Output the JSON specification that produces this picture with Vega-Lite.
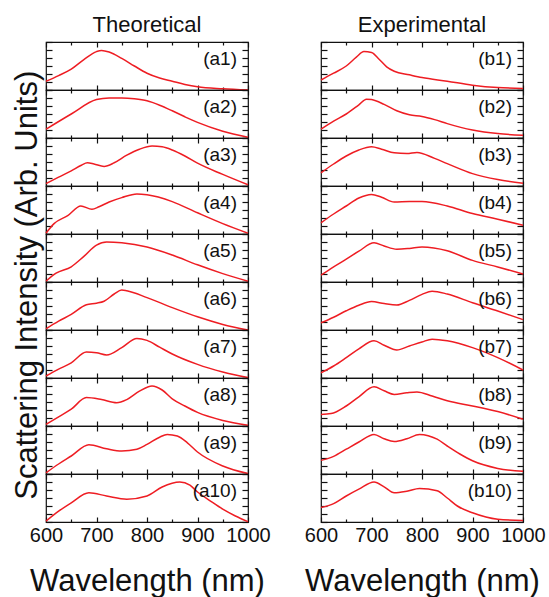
{
"$schema": "https://vega.github.io/schema/vega-lite/v6.json",
"padding": {"left": 11, "top": 13, "right": 0, "bottom": 0},
"data": {"values": [
{"p":"a1","w":600,"v":0.22},{"p":"a1","w":625,"v":0.36},{"p":"a1","w":650,"v":0.52},{"p":"a1","w":675,"v":0.76},{"p":"a1","w":700,"v":0.96},{"p":"a1","w":710,"v":0.99},{"p":"a1","w":725,"v":0.95},{"p":"a1","w":750,"v":0.79},{"p":"a1","w":775,"v":0.6},{"p":"a1","w":800,"v":0.42},{"p":"a1","w":825,"v":0.3},{"p":"a1","w":850,"v":0.22},{"p":"a1","w":875,"v":0.14},{"p":"a1","w":900,"v":0.08},{"p":"a1","w":950,"v":0.03},{"p":"a1","w":1000,"v":0.0},
{"p":"a2","w":600,"v":0.22},{"p":"a2","w":650,"v":0.6},{"p":"a2","w":700,"v":0.96},{"p":"a2","w":725,"v":1.0},{"p":"a2","w":750,"v":1.0},{"p":"a2","w":775,"v":0.98},{"p":"a2","w":800,"v":0.93},{"p":"a2","w":825,"v":0.82},{"p":"a2","w":850,"v":0.68},{"p":"a2","w":875,"v":0.53},{"p":"a2","w":900,"v":0.39},{"p":"a2","w":950,"v":0.17},{"p":"a2","w":1000,"v":0.02},
{"p":"a3","w":600,"v":0.06},{"p":"a3","w":625,"v":0.22},{"p":"a3","w":650,"v":0.38},{"p":"a3","w":670,"v":0.52},{"p":"a3","w":682,"v":0.58},{"p":"a3","w":695,"v":0.55},{"p":"a3","w":715,"v":0.49},{"p":"a3","w":735,"v":0.58},{"p":"a3","w":760,"v":0.77},{"p":"a3","w":785,"v":0.92},{"p":"a3","w":810,"v":1.0},{"p":"a3","w":830,"v":0.98},{"p":"a3","w":850,"v":0.9},{"p":"a3","w":875,"v":0.75},{"p":"a3","w":900,"v":0.57},{"p":"a3","w":950,"v":0.29},{"p":"a3","w":1000,"v":0.03},
{"p":"a4","w":600,"v":0.02},{"p":"a4","w":616,"v":0.26},{"p":"a4","w":643,"v":0.46},{"p":"a4","w":669,"v":0.7},{"p":"a4","w":691,"v":0.62},{"p":"a4","w":705,"v":0.68},{"p":"a4","w":725,"v":0.8},{"p":"a4","w":750,"v":0.91},{"p":"a4","w":780,"v":1.0},{"p":"a4","w":800,"v":0.98},{"p":"a4","w":850,"v":0.81},{"p":"a4","w":900,"v":0.53},{"p":"a4","w":950,"v":0.26},{"p":"a4","w":1000,"v":0.02},
{"p":"a5","w":600,"v":0.02},{"p":"a5","w":620,"v":0.22},{"p":"a5","w":650,"v":0.38},{"p":"a5","w":675,"v":0.64},{"p":"a5","w":700,"v":0.92},{"p":"a5","w":720,"v":1.0},{"p":"a5","w":750,"v":0.98},{"p":"a5","w":800,"v":0.875},{"p":"a5","w":850,"v":0.675},{"p":"a5","w":900,"v":0.43},{"p":"a5","w":950,"v":0.21},{"p":"a5","w":1000,"v":0.02},
{"p":"a6","w":600,"v":0.03},{"p":"a6","w":625,"v":0.22},{"p":"a6","w":650,"v":0.39},{"p":"a6","w":680,"v":0.63},{"p":"a6","w":700,"v":0.67},{"p":"a6","w":715,"v":0.72},{"p":"a6","w":735,"v":0.9},{"p":"a6","w":750,"v":1.0},{"p":"a6","w":760,"v":0.98},{"p":"a6","w":800,"v":0.81},{"p":"a6","w":850,"v":0.56},{"p":"a6","w":900,"v":0.33},{"p":"a6","w":950,"v":0.14},{"p":"a6","w":1000,"v":0.0},
{"p":"a7","w":600,"v":0.05},{"p":"a7","w":625,"v":0.22},{"p":"a7","w":650,"v":0.38},{"p":"a7","w":680,"v":0.65},{"p":"a7","w":700,"v":0.63},{"p":"a7","w":720,"v":0.575},{"p":"a7","w":750,"v":0.76},{"p":"a7","w":780,"v":0.99},{"p":"a7","w":800,"v":0.94},{"p":"a7","w":825,"v":0.77},{"p":"a7","w":850,"v":0.6},{"p":"a7","w":900,"v":0.34},{"p":"a7","w":950,"v":0.15},{"p":"a7","w":1000,"v":0.01},
{"p":"a8","w":600,"v":0.04},{"p":"a8","w":625,"v":0.23},{"p":"a8","w":650,"v":0.42},{"p":"a8","w":680,"v":0.71},{"p":"a8","w":710,"v":0.66},{"p":"a8","w":740,"v":0.58},{"p":"a8","w":760,"v":0.66},{"p":"a8","w":785,"v":0.87},{"p":"a8","w":810,"v":1.0},{"p":"a8","w":830,"v":0.9},{"p":"a8","w":850,"v":0.68},{"p":"a8","w":875,"v":0.5},{"p":"a8","w":900,"v":0.34},{"p":"a8","w":950,"v":0.14},{"p":"a8","w":1000,"v":0.02},
{"p":"a9","w":600,"v":0.03},{"p":"a9","w":625,"v":0.25},{"p":"a9","w":650,"v":0.45},{"p":"a9","w":685,"v":0.73},{"p":"a9","w":720,"v":0.63},{"p":"a9","w":750,"v":0.575},{"p":"a9","w":780,"v":0.62},{"p":"a9","w":800,"v":0.74},{"p":"a9","w":825,"v":0.92},{"p":"a9","w":840,"v":0.99},{"p":"a9","w":860,"v":0.95},{"p":"a9","w":880,"v":0.78},{"p":"a9","w":900,"v":0.55},{"p":"a9","w":950,"v":0.2},{"p":"a9","w":1000,"v":0.01},
{"p":"a10","w":600,"v":0.02},{"p":"a10","w":625,"v":0.27},{"p":"a10","w":650,"v":0.48},{"p":"a10","w":685,"v":0.73},{"p":"a10","w":720,"v":0.65},{"p":"a10","w":760,"v":0.57},{"p":"a10","w":800,"v":0.65},{"p":"a10","w":830,"v":0.875},{"p":"a10","w":865,"v":1.0},{"p":"a10","w":885,"v":0.92},{"p":"a10","w":900,"v":0.75},{"p":"a10","w":925,"v":0.53},{"p":"a10","w":950,"v":0.32},{"p":"a10","w":975,"v":0.15},{"p":"a10","w":1000,"v":0.01},
{"p":"b1","w":600,"v":0.25},{"p":"b1","w":625,"v":0.42},{"p":"b1","w":650,"v":0.6},{"p":"b1","w":670,"v":0.82},{"p":"b1","w":685,"v":0.96},{"p":"b1","w":700,"v":0.94},{"p":"b1","w":715,"v":0.77},{"p":"b1","w":730,"v":0.58},{"p":"b1","w":745,"v":0.47},{"p":"b1","w":775,"v":0.38},{"p":"b1","w":800,"v":0.31},{"p":"b1","w":850,"v":0.22},{"p":"b1","w":900,"v":0.12},{"p":"b1","w":950,"v":0.06},{"p":"b1","w":1000,"v":0.04},
{"p":"b2","w":600,"v":0.22},{"p":"b2","w":625,"v":0.42},{"p":"b2","w":650,"v":0.6},{"p":"b2","w":675,"v":0.83},{"p":"b2","w":690,"v":0.97},{"p":"b2","w":700,"v":0.96},{"p":"b2","w":725,"v":0.84},{"p":"b2","w":750,"v":0.68},{"p":"b2","w":775,"v":0.58},{"p":"b2","w":800,"v":0.54},{"p":"b2","w":825,"v":0.46},{"p":"b2","w":850,"v":0.36},{"p":"b2","w":900,"v":0.2},{"p":"b2","w":950,"v":0.11},{"p":"b2","w":1000,"v":0.07},
{"p":"b3","w":600,"v":0.33},{"p":"b3","w":625,"v":0.55},{"p":"b3","w":650,"v":0.75},{"p":"b3","w":675,"v":0.9},{"p":"b3","w":700,"v":0.98},{"p":"b3","w":720,"v":0.92},{"p":"b3","w":745,"v":0.83},{"p":"b3","w":770,"v":0.81},{"p":"b3","w":790,"v":0.84},{"p":"b3","w":825,"v":0.69},{"p":"b3","w":850,"v":0.56},{"p":"b3","w":900,"v":0.31},{"p":"b3","w":950,"v":0.16},{"p":"b3","w":1000,"v":0.07},
{"p":"b4","w":600,"v":0.28},{"p":"b4","w":625,"v":0.5},{"p":"b4","w":650,"v":0.7},{"p":"b4","w":675,"v":0.9},{"p":"b4","w":700,"v":0.99},{"p":"b4","w":720,"v":0.92},{"p":"b4","w":745,"v":0.8},{"p":"b4","w":775,"v":0.81},{"p":"b4","w":800,"v":0.81},{"p":"b4","w":850,"v":0.7},{"p":"b4","w":900,"v":0.51},{"p":"b4","w":950,"v":0.37},{"p":"b4","w":1000,"v":0.22},
{"p":"b5","w":600,"v":0.17},{"p":"b5","w":625,"v":0.38},{"p":"b5","w":650,"v":0.57},{"p":"b5","w":675,"v":0.77},{"p":"b5","w":705,"v":0.98},{"p":"b5","w":725,"v":0.9},{"p":"b5","w":750,"v":0.82},{"p":"b5","w":775,"v":0.84},{"p":"b5","w":800,"v":0.875},{"p":"b5","w":850,"v":0.78},{"p":"b5","w":900,"v":0.54},{"p":"b5","w":950,"v":0.375},{"p":"b5","w":1000,"v":0.2},
{"p":"b6","w":600,"v":0.18},{"p":"b6","w":625,"v":0.32},{"p":"b6","w":650,"v":0.48},{"p":"b6","w":675,"v":0.62},{"p":"b6","w":700,"v":0.71},{"p":"b6","w":725,"v":0.66},{"p":"b6","w":750,"v":0.625},{"p":"b6","w":775,"v":0.74},{"p":"b6","w":800,"v":0.89},{"p":"b6","w":820,"v":0.97},{"p":"b6","w":850,"v":0.9},{"p":"b6","w":900,"v":0.68},{"p":"b6","w":950,"v":0.475},{"p":"b6","w":1000,"v":0.26},
{"p":"b7","w":600,"v":0.13},{"p":"b7","w":625,"v":0.3},{"p":"b7","w":650,"v":0.51},{"p":"b7","w":675,"v":0.73},{"p":"b7","w":705,"v":0.93},{"p":"b7","w":725,"v":0.82},{"p":"b7","w":750,"v":0.7},{"p":"b7","w":775,"v":0.8},{"p":"b7","w":800,"v":0.9},{"p":"b7","w":820,"v":0.97},{"p":"b7","w":850,"v":0.93},{"p":"b7","w":900,"v":0.76},{"p":"b7","w":950,"v":0.51},{"p":"b7","w":1000,"v":0.2},
{"p":"b8","w":600,"v":0.29},{"p":"b8","w":620,"v":0.31},{"p":"b8","w":650,"v":0.5},{"p":"b8","w":675,"v":0.73},{"p":"b8","w":705,"v":0.98},{"p":"b8","w":725,"v":0.88},{"p":"b8","w":745,"v":0.79},{"p":"b8","w":770,"v":0.83},{"p":"b8","w":790,"v":0.85},{"p":"b8","w":820,"v":0.75},{"p":"b8","w":850,"v":0.63},{"p":"b8","w":900,"v":0.5},{"p":"b8","w":950,"v":0.36},{"p":"b8","w":1000,"v":0.17},
{"p":"b9","w":600,"v":0.34},{"p":"b9","w":625,"v":0.44},{"p":"b9","w":650,"v":0.62},{"p":"b9","w":675,"v":0.8},{"p":"b9","w":705,"v":0.99},{"p":"b9","w":725,"v":0.88},{"p":"b9","w":745,"v":0.81},{"p":"b9","w":770,"v":0.88},{"p":"b9","w":795,"v":0.99},{"p":"b9","w":830,"v":0.87},{"p":"b9","w":850,"v":0.7},{"p":"b9","w":875,"v":0.5},{"p":"b9","w":900,"v":0.33},{"p":"b9","w":950,"v":0.14},{"p":"b9","w":1000,"v":0.07},
{"p":"b10","w":600,"v":0.36},{"p":"b10","w":625,"v":0.46},{"p":"b10","w":650,"v":0.65},{"p":"b10","w":675,"v":0.82},{"p":"b10","w":705,"v":1.0},{"p":"b10","w":725,"v":0.88},{"p":"b10","w":745,"v":0.73},{"p":"b10","w":770,"v":0.77},{"p":"b10","w":795,"v":0.84},{"p":"b10","w":830,"v":0.78},{"p":"b10","w":850,"v":0.6},{"p":"b10","w":870,"v":0.4},{"p":"b10","w":900,"v":0.23},{"p":"b10","w":950,"v":0.07},{"p":"b10","w":1000,"v":0.04}
]},
"hconcat": [
{"vconcat": [
{"title": {"text": "Theoretical", "fontSize": 22, "fontWeight": "normal", "offset": 4}, "width": 202, "height": 48, "transform": [{"filter": "datum.p === 'a1'"}], "layer": [{"mark": {"type": "line", "color": "#ee1d23", "strokeWidth": 1.5, "interpolate": "monotone"}, "encoding": {"x": {"field": "w", "type": "quantitative", "scale": {"domain": [600, 1000], "nice": false}, "axis": {"title": null}}, "y": {"field": "v", "type": "quantitative", "scale": {"domain": [0, 1.2], "nice": false}, "axis": {"title": null}}}}, {"transform": [{"filter": "datum.w === 1000"}], "mark": {"type": "text", "align": "right", "baseline": "middle", "dx": -11, "dy": 17, "fontSize": 19}, "encoding": {"x": {"datum": 1000, "type": "quantitative", "axis": {"orient": "top", "title": null}}, "y": {"datum": 1.2, "type": "quantitative", "axis": {"orient": "right", "title": null}}, "text": {"value": "(a1)"}}}], "resolve": {"axis": {"x": "independent", "y": "independent"}}},
{"width": 202, "height": 48, "transform": [{"filter": "datum.p === 'a2'"}], "layer": [{"mark": {"type": "line", "color": "#ee1d23", "strokeWidth": 1.5, "interpolate": "monotone"}, "encoding": {"x": {"field": "w", "type": "quantitative", "scale": {"domain": [600, 1000], "nice": false}, "axis": {"title": null}}, "y": {"field": "v", "type": "quantitative", "scale": {"domain": [0, 1.2], "nice": false}, "axis": {"title": null}}}}, {"transform": [{"filter": "datum.w === 1000"}], "mark": {"type": "text", "align": "right", "baseline": "middle", "dx": -11, "dy": 17, "fontSize": 19}, "encoding": {"x": {"datum": 1000, "type": "quantitative", "axis": {"orient": "top", "title": null}}, "y": {"datum": 1.2, "type": "quantitative", "axis": {"orient": "right", "title": null}}, "text": {"value": "(a2)"}}}], "resolve": {"axis": {"x": "independent", "y": "independent"}}},
{"width": 202, "height": 48, "transform": [{"filter": "datum.p === 'a3'"}], "layer": [{"mark": {"type": "line", "color": "#ee1d23", "strokeWidth": 1.5, "interpolate": "monotone"}, "encoding": {"x": {"field": "w", "type": "quantitative", "scale": {"domain": [600, 1000], "nice": false}, "axis": {"title": null}}, "y": {"field": "v", "type": "quantitative", "scale": {"domain": [0, 1.2], "nice": false}, "axis": {"title": null}}}}, {"transform": [{"filter": "datum.w === 1000"}], "mark": {"type": "text", "align": "right", "baseline": "middle", "dx": -11, "dy": 17, "fontSize": 19}, "encoding": {"x": {"datum": 1000, "type": "quantitative", "axis": {"orient": "top", "title": null}}, "y": {"datum": 1.2, "type": "quantitative", "axis": {"orient": "right", "title": null}}, "text": {"value": "(a3)"}}}], "resolve": {"axis": {"x": "independent", "y": "independent"}}},
{"width": 202, "height": 48, "transform": [{"filter": "datum.p === 'a4'"}], "layer": [{"mark": {"type": "line", "color": "#ee1d23", "strokeWidth": 1.5, "interpolate": "monotone"}, "encoding": {"x": {"field": "w", "type": "quantitative", "scale": {"domain": [600, 1000], "nice": false}, "axis": {"title": null}}, "y": {"field": "v", "type": "quantitative", "scale": {"domain": [0, 1.2], "nice": false}, "axis": {"title": null}}}}, {"transform": [{"filter": "datum.w === 1000"}], "mark": {"type": "text", "align": "right", "baseline": "middle", "dx": -11, "dy": 17, "fontSize": 19}, "encoding": {"x": {"datum": 1000, "type": "quantitative", "axis": {"orient": "top", "title": null}}, "y": {"datum": 1.2, "type": "quantitative", "axis": {"orient": "right", "title": null}}, "text": {"value": "(a4)"}}}], "resolve": {"axis": {"x": "independent", "y": "independent"}}},
{"width": 202, "height": 48, "transform": [{"filter": "datum.p === 'a5'"}], "layer": [{"mark": {"type": "line", "color": "#ee1d23", "strokeWidth": 1.5, "interpolate": "monotone"}, "encoding": {"x": {"field": "w", "type": "quantitative", "scale": {"domain": [600, 1000], "nice": false}, "axis": {"title": null}}, "y": {"field": "v", "type": "quantitative", "scale": {"domain": [0, 1.2], "nice": false}, "axis": {"title": null}}}}, {"transform": [{"filter": "datum.w === 1000"}], "mark": {"type": "text", "align": "right", "baseline": "middle", "dx": -11, "dy": 17, "fontSize": 19}, "encoding": {"x": {"datum": 1000, "type": "quantitative", "axis": {"orient": "top", "title": null}}, "y": {"datum": 1.2, "type": "quantitative", "axis": {"orient": "right", "title": null}}, "text": {"value": "(a5)"}}}], "resolve": {"axis": {"x": "independent", "y": "independent"}}},
{"width": 202, "height": 48, "transform": [{"filter": "datum.p === 'a6'"}], "layer": [{"mark": {"type": "line", "color": "#ee1d23", "strokeWidth": 1.5, "interpolate": "monotone"}, "encoding": {"x": {"field": "w", "type": "quantitative", "scale": {"domain": [600, 1000], "nice": false}, "axis": {"title": null}}, "y": {"field": "v", "type": "quantitative", "scale": {"domain": [0, 1.2], "nice": false}, "axis": {"title": null}}}}, {"transform": [{"filter": "datum.w === 1000"}], "mark": {"type": "text", "align": "right", "baseline": "middle", "dx": -11, "dy": 17, "fontSize": 19}, "encoding": {"x": {"datum": 1000, "type": "quantitative", "axis": {"orient": "top", "title": null}}, "y": {"datum": 1.2, "type": "quantitative", "axis": {"orient": "right", "title": null}}, "text": {"value": "(a6)"}}}], "resolve": {"axis": {"x": "independent", "y": "independent"}}},
{"width": 202, "height": 48, "transform": [{"filter": "datum.p === 'a7'"}], "layer": [{"mark": {"type": "line", "color": "#ee1d23", "strokeWidth": 1.5, "interpolate": "monotone"}, "encoding": {"x": {"field": "w", "type": "quantitative", "scale": {"domain": [600, 1000], "nice": false}, "axis": {"title": null}}, "y": {"field": "v", "type": "quantitative", "scale": {"domain": [0, 1.2], "nice": false}, "axis": {"title": null}}}}, {"transform": [{"filter": "datum.w === 1000"}], "mark": {"type": "text", "align": "right", "baseline": "middle", "dx": -11, "dy": 17, "fontSize": 19}, "encoding": {"x": {"datum": 1000, "type": "quantitative", "axis": {"orient": "top", "title": null}}, "y": {"datum": 1.2, "type": "quantitative", "axis": {"orient": "right", "title": null}}, "text": {"value": "(a7)"}}}], "resolve": {"axis": {"x": "independent", "y": "independent"}}},
{"width": 202, "height": 48, "transform": [{"filter": "datum.p === 'a8'"}], "layer": [{"mark": {"type": "line", "color": "#ee1d23", "strokeWidth": 1.5, "interpolate": "monotone"}, "encoding": {"x": {"field": "w", "type": "quantitative", "scale": {"domain": [600, 1000], "nice": false}, "axis": {"title": null}}, "y": {"field": "v", "type": "quantitative", "scale": {"domain": [0, 1.2], "nice": false}, "axis": {"title": null}}}}, {"transform": [{"filter": "datum.w === 1000"}], "mark": {"type": "text", "align": "right", "baseline": "middle", "dx": -11, "dy": 17, "fontSize": 19}, "encoding": {"x": {"datum": 1000, "type": "quantitative", "axis": {"orient": "top", "title": null}}, "y": {"datum": 1.2, "type": "quantitative", "axis": {"orient": "right", "title": null}}, "text": {"value": "(a8)"}}}], "resolve": {"axis": {"x": "independent", "y": "independent"}}},
{"width": 202, "height": 48, "transform": [{"filter": "datum.p === 'a9'"}], "layer": [{"mark": {"type": "line", "color": "#ee1d23", "strokeWidth": 1.5, "interpolate": "monotone"}, "encoding": {"x": {"field": "w", "type": "quantitative", "scale": {"domain": [600, 1000], "nice": false}, "axis": {"title": null}}, "y": {"field": "v", "type": "quantitative", "scale": {"domain": [0, 1.2], "nice": false}, "axis": {"title": null}}}}, {"transform": [{"filter": "datum.w === 1000"}], "mark": {"type": "text", "align": "right", "baseline": "middle", "dx": -11, "dy": 17, "fontSize": 19}, "encoding": {"x": {"datum": 1000, "type": "quantitative", "axis": {"orient": "top", "title": null}}, "y": {"datum": 1.2, "type": "quantitative", "axis": {"orient": "right", "title": null}}, "text": {"value": "(a9)"}}}], "resolve": {"axis": {"x": "independent", "y": "independent"}}},
{"width": 202, "height": 48, "transform": [{"filter": "datum.p === 'a10'"}], "layer": [{"mark": {"type": "line", "color": "#ee1d23", "strokeWidth": 1.5, "interpolate": "monotone"}, "encoding": {"x": {"field": "w", "type": "quantitative", "scale": {"domain": [600, 1000], "nice": false}, "axis": {"title": "Wavelength (nm)", "labels": true, "format": "d", "labelOverlap": false, "labelFlush": false, "labelExpr": "datum.value % 100 === 0 ? datum.label : ''", "labelFontSize": 20, "labelPadding": 8, "titleFontSize": 31, "titlePadding": 19}}, "y": {"field": "v", "type": "quantitative", "scale": {"domain": [0, 1.2], "nice": false}, "axis": {"title": null}}}}, {"transform": [{"filter": "datum.w === 1000"}], "mark": {"type": "text", "align": "right", "baseline": "middle", "dx": -11, "dy": 17, "fontSize": 19}, "encoding": {"x": {"datum": 1000, "type": "quantitative", "axis": {"orient": "top", "title": null}}, "y": {"datum": 1.2, "type": "quantitative", "axis": {"orient": "right", "title": null}}, "text": {"value": "(a10)"}}}], "resolve": {"axis": {"x": "independent", "y": "independent"}}}
], "spacing": 0, "bounds": "flush", "title": {"text": "Scattering Intensity (Arb. Units)", "orient": "left", "anchor": "middle", "frame": "bounds", "fontSize": 31, "fontWeight": "normal", "offset": -15, "dx": 20}},
{"vconcat": [
{"title": {"text": "Experimental", "fontSize": 22, "fontWeight": "normal", "offset": 4}, "width": 202, "height": 48, "transform": [{"filter": "datum.p === 'b1'"}], "layer": [{"mark": {"type": "line", "color": "#ee1d23", "strokeWidth": 1.5, "interpolate": "monotone"}, "encoding": {"x": {"field": "w", "type": "quantitative", "scale": {"domain": [600, 1000], "nice": false}, "axis": {"title": null}}, "y": {"field": "v", "type": "quantitative", "scale": {"domain": [0, 1.2], "nice": false}, "axis": {"title": null}}}}, {"transform": [{"filter": "datum.w === 1000"}], "mark": {"type": "text", "align": "right", "baseline": "middle", "dx": -11, "dy": 17, "fontSize": 19}, "encoding": {"x": {"datum": 1000, "type": "quantitative", "axis": {"orient": "top", "title": null}}, "y": {"datum": 1.2, "type": "quantitative", "axis": {"orient": "right", "title": null}}, "text": {"value": "(b1)"}}}], "resolve": {"axis": {"x": "independent", "y": "independent"}}},
{"width": 202, "height": 48, "transform": [{"filter": "datum.p === 'b2'"}], "layer": [{"mark": {"type": "line", "color": "#ee1d23", "strokeWidth": 1.5, "interpolate": "monotone"}, "encoding": {"x": {"field": "w", "type": "quantitative", "scale": {"domain": [600, 1000], "nice": false}, "axis": {"title": null}}, "y": {"field": "v", "type": "quantitative", "scale": {"domain": [0, 1.2], "nice": false}, "axis": {"title": null}}}}, {"transform": [{"filter": "datum.w === 1000"}], "mark": {"type": "text", "align": "right", "baseline": "middle", "dx": -11, "dy": 17, "fontSize": 19}, "encoding": {"x": {"datum": 1000, "type": "quantitative", "axis": {"orient": "top", "title": null}}, "y": {"datum": 1.2, "type": "quantitative", "axis": {"orient": "right", "title": null}}, "text": {"value": "(b2)"}}}], "resolve": {"axis": {"x": "independent", "y": "independent"}}},
{"width": 202, "height": 48, "transform": [{"filter": "datum.p === 'b3'"}], "layer": [{"mark": {"type": "line", "color": "#ee1d23", "strokeWidth": 1.5, "interpolate": "monotone"}, "encoding": {"x": {"field": "w", "type": "quantitative", "scale": {"domain": [600, 1000], "nice": false}, "axis": {"title": null}}, "y": {"field": "v", "type": "quantitative", "scale": {"domain": [0, 1.2], "nice": false}, "axis": {"title": null}}}}, {"transform": [{"filter": "datum.w === 1000"}], "mark": {"type": "text", "align": "right", "baseline": "middle", "dx": -11, "dy": 17, "fontSize": 19}, "encoding": {"x": {"datum": 1000, "type": "quantitative", "axis": {"orient": "top", "title": null}}, "y": {"datum": 1.2, "type": "quantitative", "axis": {"orient": "right", "title": null}}, "text": {"value": "(b3)"}}}], "resolve": {"axis": {"x": "independent", "y": "independent"}}},
{"width": 202, "height": 48, "transform": [{"filter": "datum.p === 'b4'"}], "layer": [{"mark": {"type": "line", "color": "#ee1d23", "strokeWidth": 1.5, "interpolate": "monotone"}, "encoding": {"x": {"field": "w", "type": "quantitative", "scale": {"domain": [600, 1000], "nice": false}, "axis": {"title": null}}, "y": {"field": "v", "type": "quantitative", "scale": {"domain": [0, 1.2], "nice": false}, "axis": {"title": null}}}}, {"transform": [{"filter": "datum.w === 1000"}], "mark": {"type": "text", "align": "right", "baseline": "middle", "dx": -11, "dy": 17, "fontSize": 19}, "encoding": {"x": {"datum": 1000, "type": "quantitative", "axis": {"orient": "top", "title": null}}, "y": {"datum": 1.2, "type": "quantitative", "axis": {"orient": "right", "title": null}}, "text": {"value": "(b4)"}}}], "resolve": {"axis": {"x": "independent", "y": "independent"}}},
{"width": 202, "height": 48, "transform": [{"filter": "datum.p === 'b5'"}], "layer": [{"mark": {"type": "line", "color": "#ee1d23", "strokeWidth": 1.5, "interpolate": "monotone"}, "encoding": {"x": {"field": "w", "type": "quantitative", "scale": {"domain": [600, 1000], "nice": false}, "axis": {"title": null}}, "y": {"field": "v", "type": "quantitative", "scale": {"domain": [0, 1.2], "nice": false}, "axis": {"title": null}}}}, {"transform": [{"filter": "datum.w === 1000"}], "mark": {"type": "text", "align": "right", "baseline": "middle", "dx": -11, "dy": 17, "fontSize": 19}, "encoding": {"x": {"datum": 1000, "type": "quantitative", "axis": {"orient": "top", "title": null}}, "y": {"datum": 1.2, "type": "quantitative", "axis": {"orient": "right", "title": null}}, "text": {"value": "(b5)"}}}], "resolve": {"axis": {"x": "independent", "y": "independent"}}},
{"width": 202, "height": 48, "transform": [{"filter": "datum.p === 'b6'"}], "layer": [{"mark": {"type": "line", "color": "#ee1d23", "strokeWidth": 1.5, "interpolate": "monotone"}, "encoding": {"x": {"field": "w", "type": "quantitative", "scale": {"domain": [600, 1000], "nice": false}, "axis": {"title": null}}, "y": {"field": "v", "type": "quantitative", "scale": {"domain": [0, 1.2], "nice": false}, "axis": {"title": null}}}}, {"transform": [{"filter": "datum.w === 1000"}], "mark": {"type": "text", "align": "right", "baseline": "middle", "dx": -11, "dy": 17, "fontSize": 19}, "encoding": {"x": {"datum": 1000, "type": "quantitative", "axis": {"orient": "top", "title": null}}, "y": {"datum": 1.2, "type": "quantitative", "axis": {"orient": "right", "title": null}}, "text": {"value": "(b6)"}}}], "resolve": {"axis": {"x": "independent", "y": "independent"}}},
{"width": 202, "height": 48, "transform": [{"filter": "datum.p === 'b7'"}], "layer": [{"mark": {"type": "line", "color": "#ee1d23", "strokeWidth": 1.5, "interpolate": "monotone"}, "encoding": {"x": {"field": "w", "type": "quantitative", "scale": {"domain": [600, 1000], "nice": false}, "axis": {"title": null}}, "y": {"field": "v", "type": "quantitative", "scale": {"domain": [0, 1.2], "nice": false}, "axis": {"title": null}}}}, {"transform": [{"filter": "datum.w === 1000"}], "mark": {"type": "text", "align": "right", "baseline": "middle", "dx": -11, "dy": 17, "fontSize": 19}, "encoding": {"x": {"datum": 1000, "type": "quantitative", "axis": {"orient": "top", "title": null}}, "y": {"datum": 1.2, "type": "quantitative", "axis": {"orient": "right", "title": null}}, "text": {"value": "(b7)"}}}], "resolve": {"axis": {"x": "independent", "y": "independent"}}},
{"width": 202, "height": 48, "transform": [{"filter": "datum.p === 'b8'"}], "layer": [{"mark": {"type": "line", "color": "#ee1d23", "strokeWidth": 1.5, "interpolate": "monotone"}, "encoding": {"x": {"field": "w", "type": "quantitative", "scale": {"domain": [600, 1000], "nice": false}, "axis": {"title": null}}, "y": {"field": "v", "type": "quantitative", "scale": {"domain": [0, 1.2], "nice": false}, "axis": {"title": null}}}}, {"transform": [{"filter": "datum.w === 1000"}], "mark": {"type": "text", "align": "right", "baseline": "middle", "dx": -11, "dy": 17, "fontSize": 19}, "encoding": {"x": {"datum": 1000, "type": "quantitative", "axis": {"orient": "top", "title": null}}, "y": {"datum": 1.2, "type": "quantitative", "axis": {"orient": "right", "title": null}}, "text": {"value": "(b8)"}}}], "resolve": {"axis": {"x": "independent", "y": "independent"}}},
{"width": 202, "height": 48, "transform": [{"filter": "datum.p === 'b9'"}], "layer": [{"mark": {"type": "line", "color": "#ee1d23", "strokeWidth": 1.5, "interpolate": "monotone"}, "encoding": {"x": {"field": "w", "type": "quantitative", "scale": {"domain": [600, 1000], "nice": false}, "axis": {"title": null}}, "y": {"field": "v", "type": "quantitative", "scale": {"domain": [0, 1.2], "nice": false}, "axis": {"title": null}}}}, {"transform": [{"filter": "datum.w === 1000"}], "mark": {"type": "text", "align": "right", "baseline": "middle", "dx": -11, "dy": 17, "fontSize": 19}, "encoding": {"x": {"datum": 1000, "type": "quantitative", "axis": {"orient": "top", "title": null}}, "y": {"datum": 1.2, "type": "quantitative", "axis": {"orient": "right", "title": null}}, "text": {"value": "(b9)"}}}], "resolve": {"axis": {"x": "independent", "y": "independent"}}},
{"width": 202, "height": 48, "transform": [{"filter": "datum.p === 'b10'"}], "layer": [{"mark": {"type": "line", "color": "#ee1d23", "strokeWidth": 1.5, "interpolate": "monotone"}, "encoding": {"x": {"field": "w", "type": "quantitative", "scale": {"domain": [600, 1000], "nice": false}, "axis": {"title": "Wavelength (nm)", "labels": true, "format": "d", "labelOverlap": false, "labelFlush": false, "labelExpr": "datum.value % 100 === 0 ? datum.label : ''", "labelFontSize": 20, "labelPadding": 8, "titleFontSize": 31, "titlePadding": 19}}, "y": {"field": "v", "type": "quantitative", "scale": {"domain": [0, 1.2], "nice": false}, "axis": {"title": null}}}}, {"transform": [{"filter": "datum.w === 1000"}], "mark": {"type": "text", "align": "right", "baseline": "middle", "dx": -11, "dy": 17, "fontSize": 19}, "encoding": {"x": {"datum": 1000, "type": "quantitative", "axis": {"orient": "top", "title": null}}, "y": {"datum": 1.2, "type": "quantitative", "axis": {"orient": "right", "title": null}}, "text": {"value": "(b10)"}}}], "resolve": {"axis": {"x": "independent", "y": "independent"}}}
], "spacing": 0, "bounds": "flush"}
],
"spacing": 32,
"config": {
 "font": "Liberation Sans",
 "view": {"stroke": "#111", "strokeWidth": 1.2},
 "axis": {"domain": false, "labels": false, "grid": false, "tickColor": "#111", "tickWidth": 1.2, "labelColor": "#111", "titleColor": "#111", "titleFontWeight": "normal", "labelFont": "Liberation Sans", "titleFont": "Liberation Sans"},
 "axisX": {"tickCount": 8, "tickSize": {"condition": {"test": "datum.value % 100 === 0", "value": -5}, "value": -3}},
 "axisY": {"tickCount": 6, "tickSize": -6},
 "title": {"color": "#111", "font": "Liberation Sans"},
 "text": {"color": "#111", "font": "Liberation Sans"}
}
}
